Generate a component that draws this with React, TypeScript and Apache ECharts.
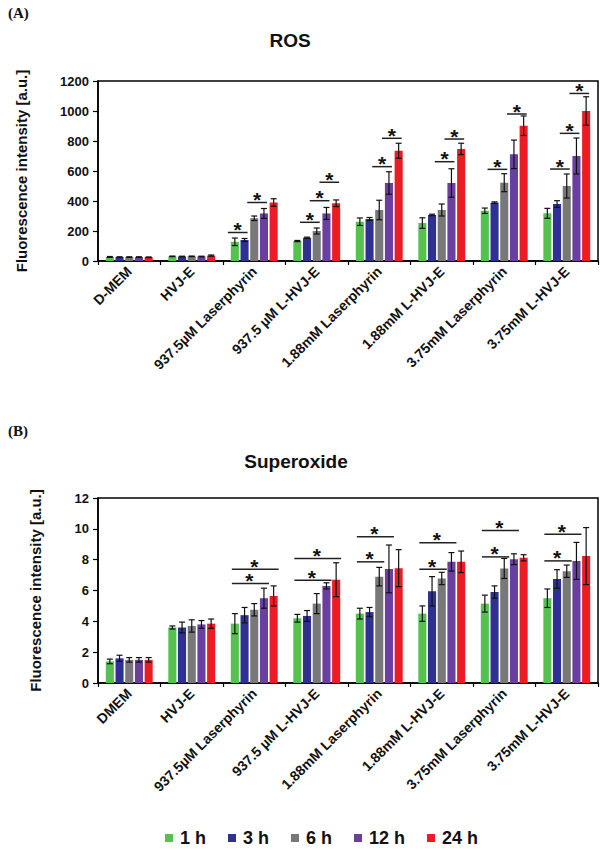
import React, { useEffect, useRef } from 'react';
import * as echarts from 'echarts';

const categoriesA = ['D-MEM', 'HVJ-E', '937.5µM Laserphyrin', '937.5 µM L-HVJ-E', '1.88mM Laserphyrin', '1.88mM L-HVJ-E', '3.75mM Laserphyrin', '3.75mM L-HVJ-E'];
const categoriesB = ['DMEM', 'HVJ-E', '937.5µM Laserphyrin', '937.5 µM L-HVJ-E', '1.88mM Laserphyrin', '1.88mM L-HVJ-E', '3.75mM Laserphyrin', '3.75mM L-HVJ-E'];
const timePoints = ['1 h', '3 h', '6 h', '12 h', '24 h'];
const colors = ['#55c24f', '#2e3192', '#787878', '#6a3fa0', '#ed1c24'];

// ROS (panel A)
const ros1h = [27, 31, 128, 133, 262, 253, 335, 318];
const ros3h = [26, 30, 140, 155, 280, 307, 389, 380];
const ros6h = [26, 31, 285, 200, 340, 340, 522, 500];
const ros12h = [26, 30, 317, 317, 520, 520, 711, 700];
const ros24h = [25, 36, 390, 385, 735, 747, 902, 1000];
const rosErr1h = [3, 2, 25, 4, 25, 35, 18, 33];
const rosErr3h = [2, 2, 10, 4, 10, 5, 5, 22];
const rosErr6h = [2, 2, 15, 20, 65, 40, 60, 80];
const rosErr12h = [2, 2, 33, 40, 75, 95, 95, 120];
const rosErr24h = [2, 4, 25, 22, 50, 38, 65, 95];

// Superoxide (panel B)
const sup1h = [1.4, 3.6, 3.85, 4.2, 4.5, 4.5, 5.15, 5.5];
const sup3h = [1.6, 3.6, 4.4, 4.35, 4.6, 5.95, 5.9, 6.75];
const sup6h = [1.5, 3.7, 4.75, 5.15, 6.9, 6.78, 7.43, 7.25];
const sup12h = [1.5, 3.8, 5.5, 6.3, 7.4, 7.86, 8.03, 7.92];
const sup24h = [1.5, 3.85, 5.65, 6.7, 7.45, 7.86, 8.12, 8.23];
const supErr1h = [0.15, 0.1, 0.65, 0.25, 0.35, 0.5, 0.55, 0.6];
const supErr3h = [0.2, 0.35, 0.5, 0.35, 0.3, 0.95, 0.4, 0.6];
const supErr6h = [0.15, 0.4, 0.4, 0.65, 0.6, 0.4, 0.65, 0.4];
const supErr12h = [0.15, 0.25, 0.65, 0.2, 1.55, 0.6, 0.35, 1.2];
const supErr24h = [0.15, 0.3, 0.65, 1.1, 1.2, 0.7, 0.2, 1.85];

// significance brackets: [category, firstBar, lastBar, value]
const rosSig = [
  [2, 0, 1, 190], [2, 2, 3, 390],
  [3, 1, 2, 258], [3, 2, 3, 402], [3, 3, 4, 525],
  [4, 2, 3, 629], [4, 3, 4, 818],
  [5, 2, 3, 662], [5, 3, 4, 813],
  [6, 1, 2, 611], [6, 3, 4, 980],
  [7, 1, 2, 613], [7, 2, 3, 851], [7, 3, 4, 1117],
];
const supSig = [
  [2, 0, 4, 7.38], [2, 0, 3, 6.45],
  [3, 0, 4, 8.08], [3, 0, 3, 6.67],
  [4, 0, 3, 9.48], [4, 0, 2, 7.86],
  [5, 0, 3, 9.1], [5, 0, 2, 7.38],
  [6, 0, 3, 9.9], [6, 0, 2, 8.18],
  [7, 0, 3, 9.65], [7, 0, 2, 7.92],
];

const rosMeans = [ros1h, ros3h, ros6h, ros12h, ros24h];
const rosErrs = [rosErr1h, rosErr3h, rosErr6h, rosErr12h, rosErr24h];
const supMeans = [sup1h, sup3h, sup6h, sup12h, sup24h];
const supErrs = [supErr1h, supErr3h, supErr6h, supErr12h, supErr24h];

const CAT_GAP = 0.25;
const BAR_GAP = 0.2;
const FONT = '"Liberation Sans", Arial, sans-serif';

function barOffset(band: number, i: number) {
  const w = (band * (1 - CAT_GAP)) / (5 + 4 * BAR_GAP);
  return (i - 2) * w * (1 + BAR_GAP);
}

function errorSeries(panel: number, i: number, means: number[], errs: number[]) {
  return {
    type: 'custom',
    xAxisIndex: panel,
    yAxisIndex: panel,
    z: 5,
    silent: true,
    data: means.map((m, k) => [k, m, errs[k]]),
    renderItem: (_p: any, api: any) => {
      const k = api.value(0);
      const m = api.value(1);
      const e = api.value(2);
      const band = api.size([1, 0])[0];
      const cx = api.coord([k, m])[0] + barOffset(band, i);
      const top = api.coord([k, m + e])[1];
      const bot = api.coord([k, m - e])[1];
      const cap = 3;
      const st = { stroke: '#111', lineWidth: 1.2 };
      return {
        type: 'group',
        children: [
          { type: 'line', shape: { x1: cx, y1: top, x2: cx, y2: bot }, style: st },
          { type: 'line', shape: { x1: cx - cap, y1: top, x2: cx + cap, y2: top }, style: st },
          { type: 'line', shape: { x1: cx - cap, y1: bot, x2: cx + cap, y2: bot }, style: st },
        ],
      };
    },
  };
}

function sigSeries(panel: number, sig: number[][], left: number, right: number, starShift: number) {
  return {
    type: 'custom',
    xAxisIndex: panel,
    yAxisIndex: panel,
    z: 6,
    silent: true,
    encode: { x: 0, y: 3 },
    data: sig,
    renderItem: (_p: any, api: any) => {
      const k = api.value(0);
      const s = api.value(1);
      const e = api.value(2);
      const v = api.value(3);
      const band = api.size([1, 0])[0];
      const p = api.coord([k, v]);
      const x0 = p[0] + barOffset(band, s) - left;
      const x1 = p[0] + barOffset(band, e) + right;
      const y = p[1];
      return {
        type: 'group',
        children: [
          { type: 'line', shape: { x1: x0, y1: y, x2: x1, y2: y }, style: { stroke: '#222', lineWidth: 1.5 } },
          {
            type: 'text',
            style: {
              text: '*',
              x: (x0 + x1) / 2 + starShift,
              y: y - 3,
              align: 'center',
              verticalAlign: 'middle',
              font: 'bold 21px ' + FONT,
              fill: '#111',
            },
          },
        ],
      };
    },
  };
}

function xAxisCfg(gridIndex: number, cats: string[]) {
  return {
    type: 'category',
    gridIndex,
    data: cats,
    axisLine: { lineStyle: { color: '#000', width: 1.5 } },
    axisTick: { show: true, length: 4, lineStyle: { color: '#000', width: 1.2 } },
    axisLabel: {
      interval: 0,
      rotate: 45,
      margin: 8,
      color: '#111',
      fontWeight: 'bold',
      fontSize: 14,
      fontFamily: FONT,
    },
    splitLine: { show: false },
  };
}

function yAxisCfg(gridIndex: number, max: number, interval: number, nameGap: number) {
  return {
    type: 'value',
    gridIndex,
    min: 0,
    max,
    interval,
    name: 'Fluorescence intensity [a.u.]',
    nameLocation: 'middle',
    nameRotate: 90,
    nameGap,
    nameTextStyle: { fontSize: 15, fontWeight: 'bold', fontFamily: FONT, color: '#111' },
    axisLine: { show: true, lineStyle: { color: '#000', width: 1.5 } },
    axisTick: { show: true, length: 5, lineStyle: { color: '#000', width: 1.2 } },
    axisLabel: {
      color: '#111',
      fontWeight: 'bold',
      fontSize: 13,
      fontFamily: FONT,
      margin: 9,
      formatter: (v: number) => String(v),
    },
    splitLine: { show: false },
  };
}

export default function App() {
  const ref = useRef<HTMLDivElement>(null);
  useEffect(() => {
    if (!ref.current) return;
    const chart = echarts.init(ref.current, undefined, { renderer: 'svg' });
    const series: any[] = [];
    timePoints.forEach((t, i) => {
      series.push({
        type: 'bar',
        name: t,
        xAxisIndex: 0,
        yAxisIndex: 0,
        data: rosMeans[i],
        itemStyle: { color: colors[i] },
        barCategoryGap: '25%',
        barGap: '20%',
        silent: true,
      });
    });
    timePoints.forEach((t, i) => {
      series.push({
        type: 'bar',
        name: t,
        xAxisIndex: 1,
        yAxisIndex: 1,
        data: supMeans[i],
        itemStyle: { color: colors[i] },
        barCategoryGap: '25%',
        barGap: '20%',
        silent: true,
      });
    });
    timePoints.forEach((_t, i) => series.push(errorSeries(0, i, rosMeans[i], rosErrs[i])));
    timePoints.forEach((_t, i) => series.push(errorSeries(1, i, supMeans[i], supErrs[i])));
    series.push(sigSeries(0, rosSig, 7, 3, 0));
    series.push(sigSeries(1, supSig, 3, 5, -1));

    chart.setOption({
      animation: false,
      backgroundColor: '#fff',
      grid: [
        { left: 98, top: 81, width: 500, height: 180, show: true, borderColor: '#000', borderWidth: 1.5, containLabel: false, outerBoundsMode: 'none' },
        { left: 98, top: 498, width: 500, height: 185, show: true, borderColor: '#000', borderWidth: 1.5, containLabel: false, outerBoundsMode: 'none' },
      ],
      xAxis: [xAxisCfg(0, categoriesA), xAxisCfg(1, categoriesB)],
      yAxis: [yAxisCfg(0, 1200, 200, 69), yAxisCfg(1, 12, 2, 55)],
      legend: {
        data: timePoints,
        left: 165,
        top: 829,
        padding: 0,
        icon: 'rect',
        itemWidth: 8,
        itemHeight: 8,
        itemGap: 22,
        textStyle: { fontSize: 18, fontWeight: 'bold', fontFamily: FONT, color: '#111', padding: [0, 0, 0, 2] },
        selectedMode: false,
      },
      graphic: [
        { type: 'text', x: 8, y: 13, style: { text: '(A)', font: 'bold 15px "Liberation Serif", "Times New Roman", serif', fill: '#111', verticalAlign: 'middle' } },
        { type: 'text', x: 8, y: 431, style: { text: '(B)', font: 'bold 15px "Liberation Serif", "Times New Roman", serif', fill: '#111', verticalAlign: 'middle' } },
        { type: 'text', x: 290, y: 40, style: { text: 'ROS', font: 'bold 19px ' + FONT, fill: '#111', align: 'center', verticalAlign: 'middle' } },
        { type: 'text', x: 296, y: 461, style: { text: 'Superoxide', font: 'bold 19px ' + FONT, fill: '#111', align: 'center', verticalAlign: 'middle' } },
      ],
      series,
    });
    return () => chart.dispose();
  }, []);
  return <div ref={ref} style={{ position: 'fixed', left: 0, top: 0, width: 600, height: 850, background: '#fff' }} />;
}
